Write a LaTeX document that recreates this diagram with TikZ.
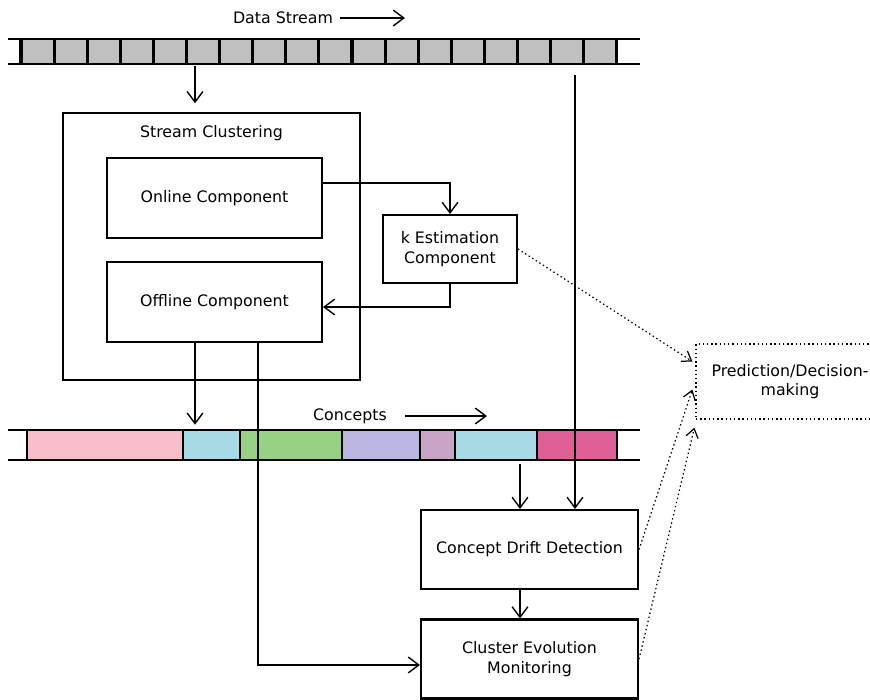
\documentclass[tikz,border=0pt]{standalone}
\usepackage{fontspec}
\setmainfont{DejaVu Sans}
\usetikzlibrary{arrows.meta,calc}

\definecolor{cellgray}{RGB}{192,192,192}
\definecolor{cpink}{RGB}{248,190,204}
\definecolor{cblue}{RGB}{168,218,230}
\definecolor{cgreen}{RGB}{152,208,132}
\definecolor{clav}{RGB}{186,184,224}
\definecolor{cmauve}{RGB}{202,164,198}
\definecolor{cmag}{RGB}{222,96,150}

\begin{document}
\begin{tikzpicture}[
	x=0.02cm, y=-0.02cm,
	every path/.style={thick},
	font=\fontsize{9}{11}\selectfont,
	box/.style={draw, line width=1.2pt, align=center, inner sep=2pt},
	arr/.style={-{Straight Barb[length=6pt,width=9pt]}},
	hint/.style={line width=0.7pt, dash pattern=on 0.8pt off 1.6pt, -{Straight Barb[length=5pt,width=7pt]}},
	band/.style={line width=1.2pt},
]
	\useasboundingbox (0,0) rectangle (870,700);

	% data stream
	\node (dstitle) at (283,18) {Data Stream};
	\coordinate (dsa) at (340,18);
	\coordinate (dsb) at (405,18);
	\draw [arr] (dsa) -- (dsb);
	\fill [cellgray] (21,39) rectangle (617,64);
	\foreach \i in {0,...,18}
		\draw [line width=1.8pt] (21+\i*33.1,39) -- (21+\i*33.1,64);
	\draw [band] (8,39) -- (640,39);
	\draw [band] (8,64) -- (640,64);
	\coordinate (dsin) at (195,66);
	\coordinate (dsout) at (575,66);

	% stream clustering
	\node [box, minimum width=5.94cm, minimum height=5.34cm] (clust) at (211.5,246.5) {};
	\node [below=4pt] (clusttitle) at (clust.north) {Stream Clustering};
	\node [box, minimum width=4.3cm, minimum height=1.6cm] (online) at (214.5,198) {Online Component};
	\node [box, minimum width=4.3cm, minimum height=1.6cm] (offline) at (214.5,302) {Offline Component};
	\node [box, minimum width=2.68cm, minimum height=1.36cm] (kest) at (450,249) {k Estimation\\Component};

	% concepts
	\node (cotitle) at (350,416) {Concepts};
	\coordinate (coa) at (405,416);
	\coordinate (cob) at (487,416);
	\draw [arr] (coa) -- (cob);
	\draw [band, fill=cpink] (27,430) rectangle (183,460);
	\draw [band, fill=cblue] (183,430) rectangle (240,460);
	\draw [band, fill=cgreen] (240,430) rectangle (342,460);
	\draw [band, fill=clav] (342,430) rectangle (420,460);
	\draw [band, fill=cmauve] (420,430) rectangle (455,460);
	\draw [band, fill=cblue] (455,430) rectangle (537,460);
	\draw [band, fill=cmag] (537,430) rectangle (617,460);
	\draw [band] (8,430) -- (640,430);
	\draw [band] (8,460) -- (640,460);
	\coordinate (coin) at (195,430);
	\coordinate (coout) at (520,460);

	% drift and evolution
	\node [box, minimum width=4.34cm, minimum height=1.58cm] (drift) at (529.5,549.5) {Concept Drift Detection};
	\node [box, minimum width=4.34cm, minimum height=1.58cm] (evol) at (529.5,659) {Cluster Evolution\\Monitoring};
	\node [draw, line width=0.7pt, dash pattern=on 0.8pt off 1.6pt, minimum width=3.76cm, minimum height=1.5cm, align=center] (pred) at (790,381.5) {Prediction/Decision-\\making};

	\draw [arr, shorten >=5pt] (dsin) -- (dsin |- clust.north);
	\draw [arr, shorten <=5pt] (dsout) -- (dsout |- drift.north);
	\draw [arr] ($(online.east)+(0,-15)$) -| (kest.north);
	\draw [arr] (kest.south) |- ($(offline.east)+(0,5)$);
	\draw [arr, shorten >=3pt] (offline.south -| coin) -- (coin);
	\draw [arr] (offline.south -| 258,0) |- ($(evol.west)+(0,6)$);
	\draw [arr, shorten <=2pt] (coout) -- (coout |- drift.north);
	\draw [arr] (drift.south -| coout) -- (evol.north -| coout);

	\draw [hint] (kest.east) -- ($(pred.west)+(-3,-20)$);
	\draw [hint] (drift.east) -- ($(pred.west)+(-3,8)$);
	\draw [hint] (evol.east) -- ($(pred.south west)+(-1,8)$);
\end{tikzpicture}
\end{document}
